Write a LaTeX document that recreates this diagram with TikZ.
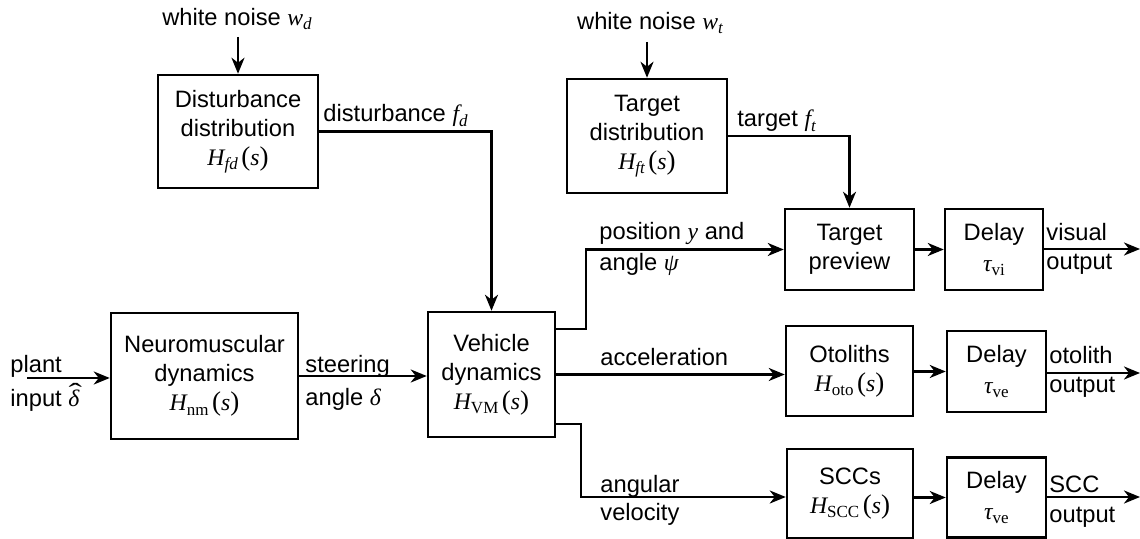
\documentclass[tikz,border=0pt]{standalone}
\usepackage{fontspec}
\setmainfont{Liberation Sans}
\newfontfamily\serifm{Liberation Serif}
\newcommand\vv[1]{{\serifm\itshape #1}}
\newcommand\sbs[1]{\raisebox{-0.35ex}{\serifm\fontsize{8.5}{8.5}\selectfont #1}}
\newcommand\tf[2]{\vv{H}\sbs{#1}\hspace{0.15em}{\serifm\fontsize{13.5}{14}\selectfont(}\vv{s}{\serifm\fontsize{13.5}{14}\selectfont)}}
\newsavebox\dbox
\newcommand\hatdelta{\sbox\dbox{\vv{δ}}\makebox[0pt][l]{\makebox[\wd\dbox][c]{\hspace{0.12em}\raisebox{0.42ex}{\scalebox{1.7}[1.1]{\serifm\char"02C6}}}}\usebox\dbox}
\usetikzlibrary{arrows.meta}
\begin{document}
\begin{tikzpicture}[x=0.5pt,y=-0.5pt,
  font=\fontsize{11.85}{14.5}\selectfont,
  blk/.style={draw,line width=1.25pt,rectangle,inner sep=0pt,align=center},
  lbl/.style={anchor=base west,inner sep=0pt},
  arr/.style={line width=1.25pt,-{Stealth[length=8pt,width=6.5pt,inset=2.5pt]}}]
\useasboundingbox (0,0) rectangle (1140,539);
% blocks
\node[blk,minimum width=80pt,minimum height=56.5pt] (dist) at (238,131.5) {Disturbance\\distribution\\\tf{\itshape fd}{}};
\node[blk,minimum width=80pt,minimum height=57pt] (tdist) at (647,136) {Target\\distribution\\\tf{\itshape ft}{}};
\node[blk,minimum width=93.5pt,minimum height=63pt] (nm) at (204.5,376) {Neuromuscular\\dynamics\\\tf{nm}{}};
\node[blk,minimum width=63.5pt,minimum height=62.5pt] (veh) at (491.5,374.5) {Vehicle\\dynamics\\\tf{VM}{}};
\node[blk,minimum width=64.5pt,minimum height=40.5pt] (tp) at (849.5,249.5) {Target\\preview};
\node[blk,minimum width=49pt,minimum height=40.5pt] (d1) at (994,249.5) {Delay\\[1pt]\vv{τ}\sbs{vi}};
\node[blk,minimum width=63.5pt,minimum height=45pt] (oto) at (849.5,371) {Otoliths\\\tf{oto}{}};
\node[blk,minimum width=49.5pt,minimum height=40.5pt] (d2) at (996.5,371.5) {Delay\\[1pt]\vv{τ}\sbs{ve}};
\node[blk,minimum width=63pt,minimum height=44.5pt] (scc) at (850,493.5) {SCCs\\\tf{SCC}{}};
\node[blk,minimum width=49.5pt,minimum height=40pt] (d3) at (996.5,497.5) {Delay\\[1pt]\vv{τ}\sbs{ve}};
% free ends
\coordinate (wd) at (238,37);
\coordinate (wt) at (647,42);
\coordinate (pin) at (27,378);
\coordinate (o1) at (1140,249);
\coordinate (o2) at (1140,373);
\coordinate (o3) at (1140,497);
\coordinate (k1) at (586,329);
\coordinate (k2) at (581,424);
% texts
\node[inner sep=0pt] (twd) at (237,19) {white noise \vv{w}\sbs{\itshape d}};
\node[inner sep=0pt] (twt) at (650,23) {white noise \vv{w}\sbs{\itshape t}};
\node[lbl] (l1) at (10,373) {plant};
\node[lbl] (l2) at (10,407) {input \hatdelta};
\node[lbl] (l3) at (305,372) {steering};
\node[lbl] (l4) at (305,406) {angle \vv{δ}};
\node[lbl] (l5) at (323,122) {disturbance \vv{f}\sbs{\itshape d}};
\node[lbl] (l6) at (737,127) {target \vv{f}\sbs{\itshape t}};
\node[lbl] (l7) at (599,240) {position \vv{y} and};
\node[lbl] (l8) at (599,271) {angle \vv{ψ}};
\node[lbl] (l9) at (600,366) {acceleration};
\node[lbl] (l10) at (600,492) {angular};
\node[lbl] (l11) at (600,520) {velocity};
\node[lbl] (l12) at (1046,241) {visual};
\node[lbl] (l13) at (1046,270) {output};
\node[lbl] (l14) at (1049,364) {otolith};
\node[lbl] (l15) at (1049,393) {output};
\node[lbl] (l16) at (1049,492) {SCC};
\node[lbl] (l17) at (1049,522) {output};
% connectors
\draw[arr] (wd) -- (dist.north);
\draw[arr] (wt) -- (tdist.north);
\draw[arr] (dist.east) -| (veh.north);
\draw[arr] (tdist.east) -| (tp.north);
\draw[arr] (pin) -- (pin -| nm.west);
\draw[arr] (nm.east) -- (nm.east -| veh.west);
\draw[arr] (veh.east |- k1) -- (k1) |- (tp.west);
\draw[arr] (veh.east) -- (veh.east -| oto.west);
\draw[arr] (veh.east |- k2) -- (k2) |- (scc.west |- o3);
\draw[arr] (tp.east) -- (d1.west);
\draw[arr] (oto.east |- d2.west) -- (d2.west);
\draw[arr] (scc.east |- d3.west) -- (d3.west);
\draw[arr] (d1.east |- o1) -- (o1);
\draw[arr] (d2.east |- o2) -- (o2);
\draw[arr] (d3.east |- o3) -- (o3);
\end{tikzpicture}
\end{document}
